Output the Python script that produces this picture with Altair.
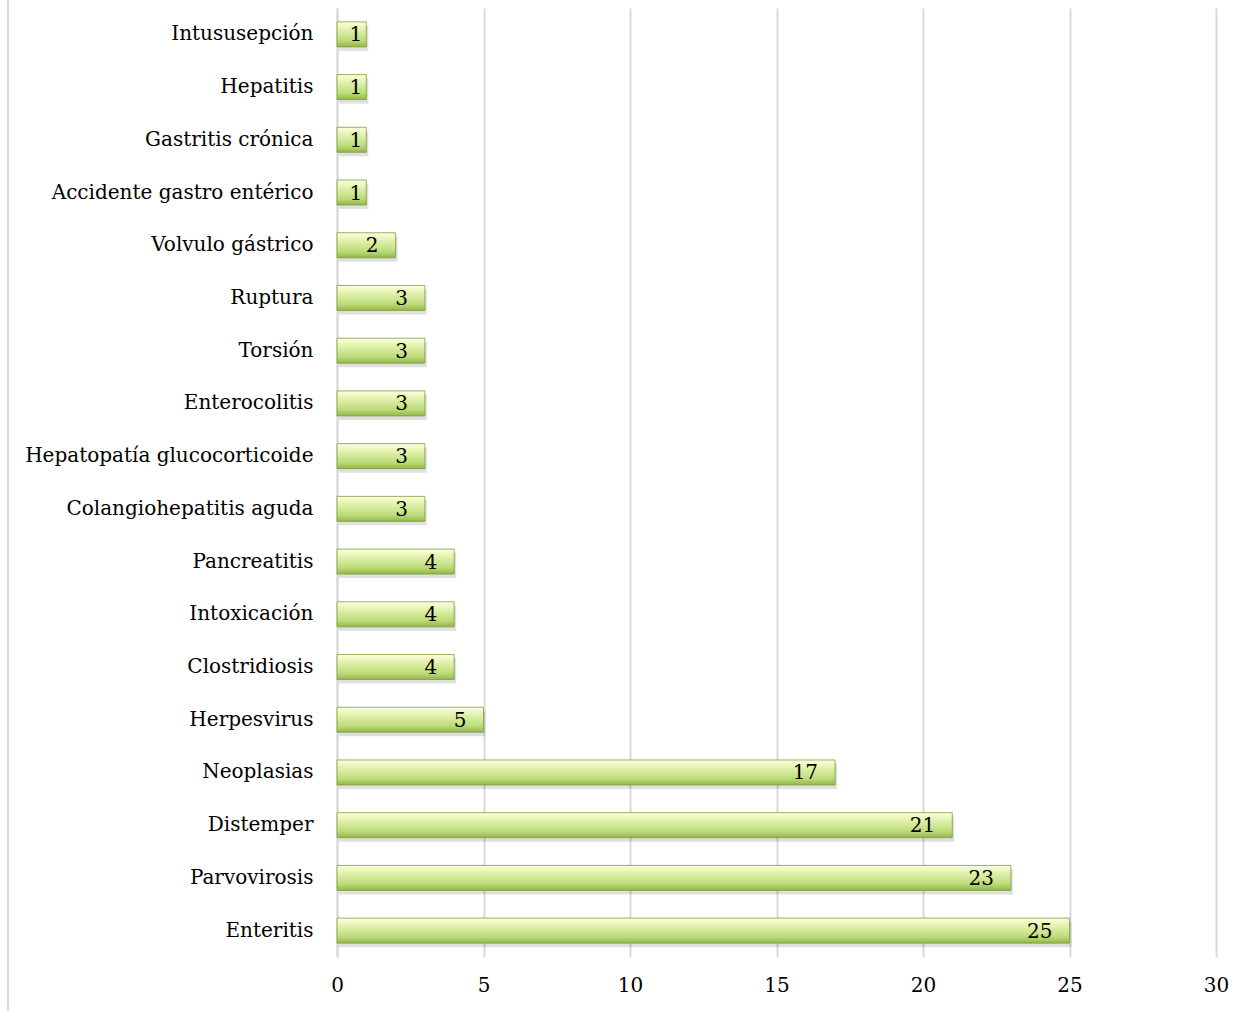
import altair as alt
import pandas as pd

categories = [
    "Intususepción", "Hepatitis", "Gastritis crónica", "Accidente gastro entérico",
    "Volvulo gástrico", "Ruptura", "Torsión", "Enterocolitis",
    "Hepatopatía glucocorticoide", "Colangiohepatitis aguda", "Pancreatitis",
    "Intoxicación", "Clostridiosis", "Herpesvirus", "Neoplasias", "Distemper",
    "Parvovirosis", "Enteritis",
]
values = [1, 1, 1, 1, 2, 3, 3, 3, 3, 3, 4, 4, 4, 5, 17, 21, 23, 25]
x_ticks = [0, 5, 10, 15, 20, 25, 30]

df = pd.DataFrame({"cat": categories, "val": values})

FONT = "DejaVu Serif"
FS = 20
W, H = 879, 949

y_enc = alt.Y("cat:N", sort=categories, title=None,
              scale=alt.Scale(paddingInner=0.0, paddingOuter=0.0),
              axis=alt.Axis(labelFont=FONT, labelFontSize=FS, labelColor="#000",
                            labelPadding=24, ticks=False, domain=True,
                            domainColor="#d9d9d9", domainWidth=2, grid=False,
                            labelLimit=400))
x_enc = alt.X("val:Q", title=None,
              scale=alt.Scale(domain=[0, 30], nice=False),
              axis=alt.Axis(values=x_ticks, labelFont=FONT, labelFontSize=FS,
                            labelColor="#000", labelPadding=18, ticks=False,
                            domain=False, grid=True, gridColor="#d9d9d9",
                            gridWidth=2, labelFlush=False))

base = alt.Chart(df)

shadow = base.mark_bar(size=25, color="#000", opacity=0.12, yOffset=4, xOffset=2).encode(
    x=x_enc, y=y_enc)

bars = base.mark_bar(
    size=25,
    stroke="#7f9c40",
    strokeWidth=0.8,
    color=alt.Gradient(
        gradient="linear",
        stops=[
            alt.GradientStop(color="#fdffe0", offset=0),
            alt.GradientStop(color="#e2f2ae", offset=0.3),
            alt.GradientStop(color="#bcdb78", offset=0.75),
            alt.GradientStop(color="#93b64a", offset=1),
        ],
        x1=0, x2=0, y1=0, y2=1,
    ),
).encode(x=x_enc, y=y_enc)

labels_big = base.transform_filter("datum.val >= 2").mark_text(
    align="right", baseline="middle", dx=-17, dy=1,
    font=FONT, fontSize=FS, color="#000").encode(x=x_enc, y=y_enc, text="val:Q")
labels_small = base.transform_filter("datum.val < 2").mark_text(
    align="right", baseline="middle", dx=-4, dy=1,
    font=FONT, fontSize=FS, color="#000").encode(x=x_enc, y=y_enc, text="val:Q")

frame = base.mark_rule(color="#d9d9d9", strokeWidth=2).encode(
    x=alt.value(-329), x2=alt.value(-329), y=alt.value(-8), y2=alt.value(H + 54))

chart = alt.layer(frame, shadow, bars, labels_big, labels_small).properties(
    width=W, height=H,
    background="white",
    autosize=alt.AutoSizeParams(type="none"),
    padding={"left": 337, "top": 8, "right": 41, "bottom": 54},
).configure_view(strokeWidth=0, stroke=None)

chart.save("out.html", embed_options={"renderer": "svg", "actions": False})
